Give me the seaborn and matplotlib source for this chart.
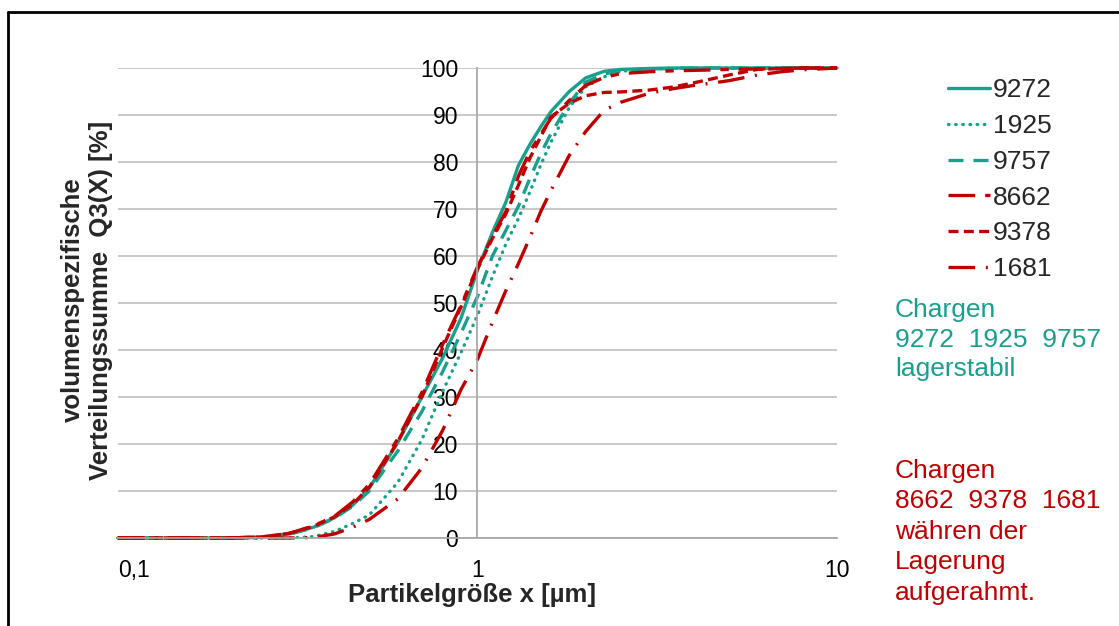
import numpy as np
import pandas as pd
import matplotlib.pyplot as plt
import seaborn as sns
from matplotlib.lines import Line2D
from matplotlib.ticker import NullLocator

# particle size grid [um] and cumulative volume distribution Q3 [%] per batch
x_um = [0.1, 0.2, 0.25, 0.3, 0.35, 0.4, 0.45, 0.5, 0.6, 0.7, 0.8, 0.9, 1.0, 1.1, 1.2, 1.3,
        1.4, 1.5, 1.6, 1.8, 2.0, 2.25, 2.5, 3.0, 3.5, 4.0, 4.5, 5.0, 6.0, 7.0, 8.0, 10.0]

q3_9272 = [0, 0, 0.2, 0.9, 2.3, 4.3, 7.0, 10.6, 20.3, 30.0, 38.3, 46.8, 57.0, 65.0, 71.5, 79.3,
           83.8, 87.5, 90.7, 95.0, 97.9, 99.3, 99.7, 99.9, 100, 100, 100, 100, 100, 100, 100, 100]
q3_1925 = [0, 0, 0, 0, 0.3, 1.4, 3.1, 4.9, 11.8, 20.9, 31.2, 39.5, 47.4, 55.6, 62.6, 68.0,
           73.7, 79.4, 84.2, 91.6, 96.0, 98.1, 99.3, 99.8, 99.9, 100, 100, 100, 100, 100, 100, 100]
q3_9757 = [0, 0, 0.1, 0.8, 2.2, 4.2, 6.8, 10.0, 18.5, 26.9, 35.4, 43.6, 51.4, 60.0, 65.5, 70.6,
           76.6, 81.8, 86.0, 92.5, 97.0, 98.7, 99.5, 99.8, 99.9, 100, 100, 100, 100, 100, 100, 100]
q3_8662 = [0, 0, 0.2, 1.0, 2.6, 4.6, 7.7, 11.4, 21.1, 30.9, 41.2, 49.5, 57.7, 64.1, 69.5, 77.0,
           82.3, 85.9, 89.3, 93.1, 96.3, 98.0, 98.8, 99.2, 99.4, 99.5, 99.6, 99.7, 99.8, 99.9, 100, 100]
q3_9378 = [0, 0, 0.2, 1.0, 2.5, 4.5, 7.2, 10.8, 20.5, 30.0, 40.5, 49.2, 57.3, 63.7, 69.0, 75.1,
           80.9, 85.4, 89.6, 92.5, 94.1, 94.8, 94.9, 95.3, 95.95, 96.85, 97.7, 98.5, 99.7, 99.9, 100, 100]
q3_1681 = [0, 0, 0, 0, 0.1, 0.86, 2.3, 3.95, 8.3, 14.9, 22.9, 31.6, 38.0, 45.9, 52.7, 58.4,
           64.0, 69.5, 73.9, 81.4, 86.5, 91.0, 92.7, 94.6, 95.6, 96.3, 96.8, 97.3, 98.5, 99.2, 99.6, 100]

chargen = ['9272', '1925', '9757', '8662', '9378', '1681']
werte = [q3_9272, q3_1925, q3_9757, q3_8662, q3_9378, q3_1681]

xtick_pos = [0.1, 1, 10]
xtick_lab = ['0,1', '1', '10']

teal = '#17A08C'
red = '#C00000'
farben = {'9272': teal, '1925': teal, '9757': teal, '8662': red, '9378': red, '1681': red}
striche = {'9272': '', '1925': (0.15, 2.0), '9757': (4.5, 3.0),
           '8662': (8, 3, 2.5, 3), '9378': (3, 1.6), '1681': (8, 3.2, 0.6, 3.2)}

df = pd.concat([pd.DataFrame({'x': x_um, 'Q3': q, 'Charge': c}) for c, q in zip(chargen, werte)],
               ignore_index=True)

sns.set_theme(style='white')
plt.rcParams['font.family'] = ['Liberation Sans', 'DejaVu Sans']

W, H = 1119, 626
fig = plt.figure(figsize=(W / 100, H / 100), dpi=100)
ax = fig.add_axes([118 / W, 1 - 538 / H, (837 - 118) / W, (538 - 68) / H])

sns.lineplot(data=df, x='x', y='Q3', hue='Charge', style='Charge', hue_order=chargen,
             style_order=chargen, palette=farben, dashes=striche, linewidth=2.4,
             sort=False, legend=False, ax=ax)

for line in ax.lines:
    line.set_clip_on(False)
ax.lines[1].set_dash_capstyle('round')

ax.set_xscale('log')
ax.set_xlim(0.1, 10)
ax.set_ylim(0, 100)
ax.set_xticks(xtick_pos)
ax.set_xticklabels(xtick_lab)
ax.xaxis.set_minor_locator(NullLocator())
ax.set_yticks(range(0, 101, 10))
ax.get_xticklabels()[0].set_ha('left')

ax.set_axisbelow(True)
ax.yaxis.grid(True, color='#BFBFBF', lw=1.2)
ax.xaxis.grid(False)
for s in ['top', 'right']:
    ax.spines[s].set_visible(False)
ax.spines['left'].set_position(('data', 1))
ax.spines['left'].set_color('#A6A6A6')
ax.spines['bottom'].set_color('#A6A6A6')
ax.tick_params(axis='y', length=0, pad=14, labelsize=16.5, colors='black')
ax.tick_params(axis='x', length=6, width=1, color='#A6A6A6', direction='out',
               pad=9, labelsize=16.5, labelcolor='black')
ax.set_xlabel('')
ax.set_ylabel('')

fig.text(472 / W, 1 - 595 / H, 'Partikelgröße x [µm]', ha='center', va='center',
         fontsize=18.5, fontweight='bold')
fig.text(87 / W, 1 - 300 / H, 'volumenspezifische\nVerteilungssumme  Q3(X) [%]',
         rotation=90, ha='center', va='center', multialignment='center',
         fontsize=18.5, fontweight='bold', linespacing=1.2)

ax.legend(ax.lines[:6], chargen, loc='upper left', bbox_to_anchor=(948 / W, 1 - 78 / H),
          bbox_transform=fig.transFigure, frameon=False, fontsize=19,
          handlelength=1.6, handletextpad=0.1, labelspacing=0.45,
          borderpad=0, borderaxespad=0)

fig.text(895 / W, 1 - 298 / H, 'Chargen\n9272  1925  9757\nlagerstabil', color=teal,
         fontsize=19, va='top', ha='left', linespacing=1.3)
fig.text(895 / W, 1 - 459 / H, 'Chargen\n8662  9378  1681\nwähren der\nLagerung\naufgerahmt.',
         color=red, fontsize=19, va='top', ha='left', linespacing=1.34)

# outer frame (left and top edge)
fig.add_artist(Line2D([8 / W, 8 / W], [0, 1 - 12 / H], transform=fig.transFigure,
                      color='black', lw=2))
fig.add_artist(Line2D([8 / W, 1], [1 - 12 / H, 1 - 12 / H], transform=fig.transFigure,
                      color='black', lw=2))

fig.savefig('out.png', dpi=100)
